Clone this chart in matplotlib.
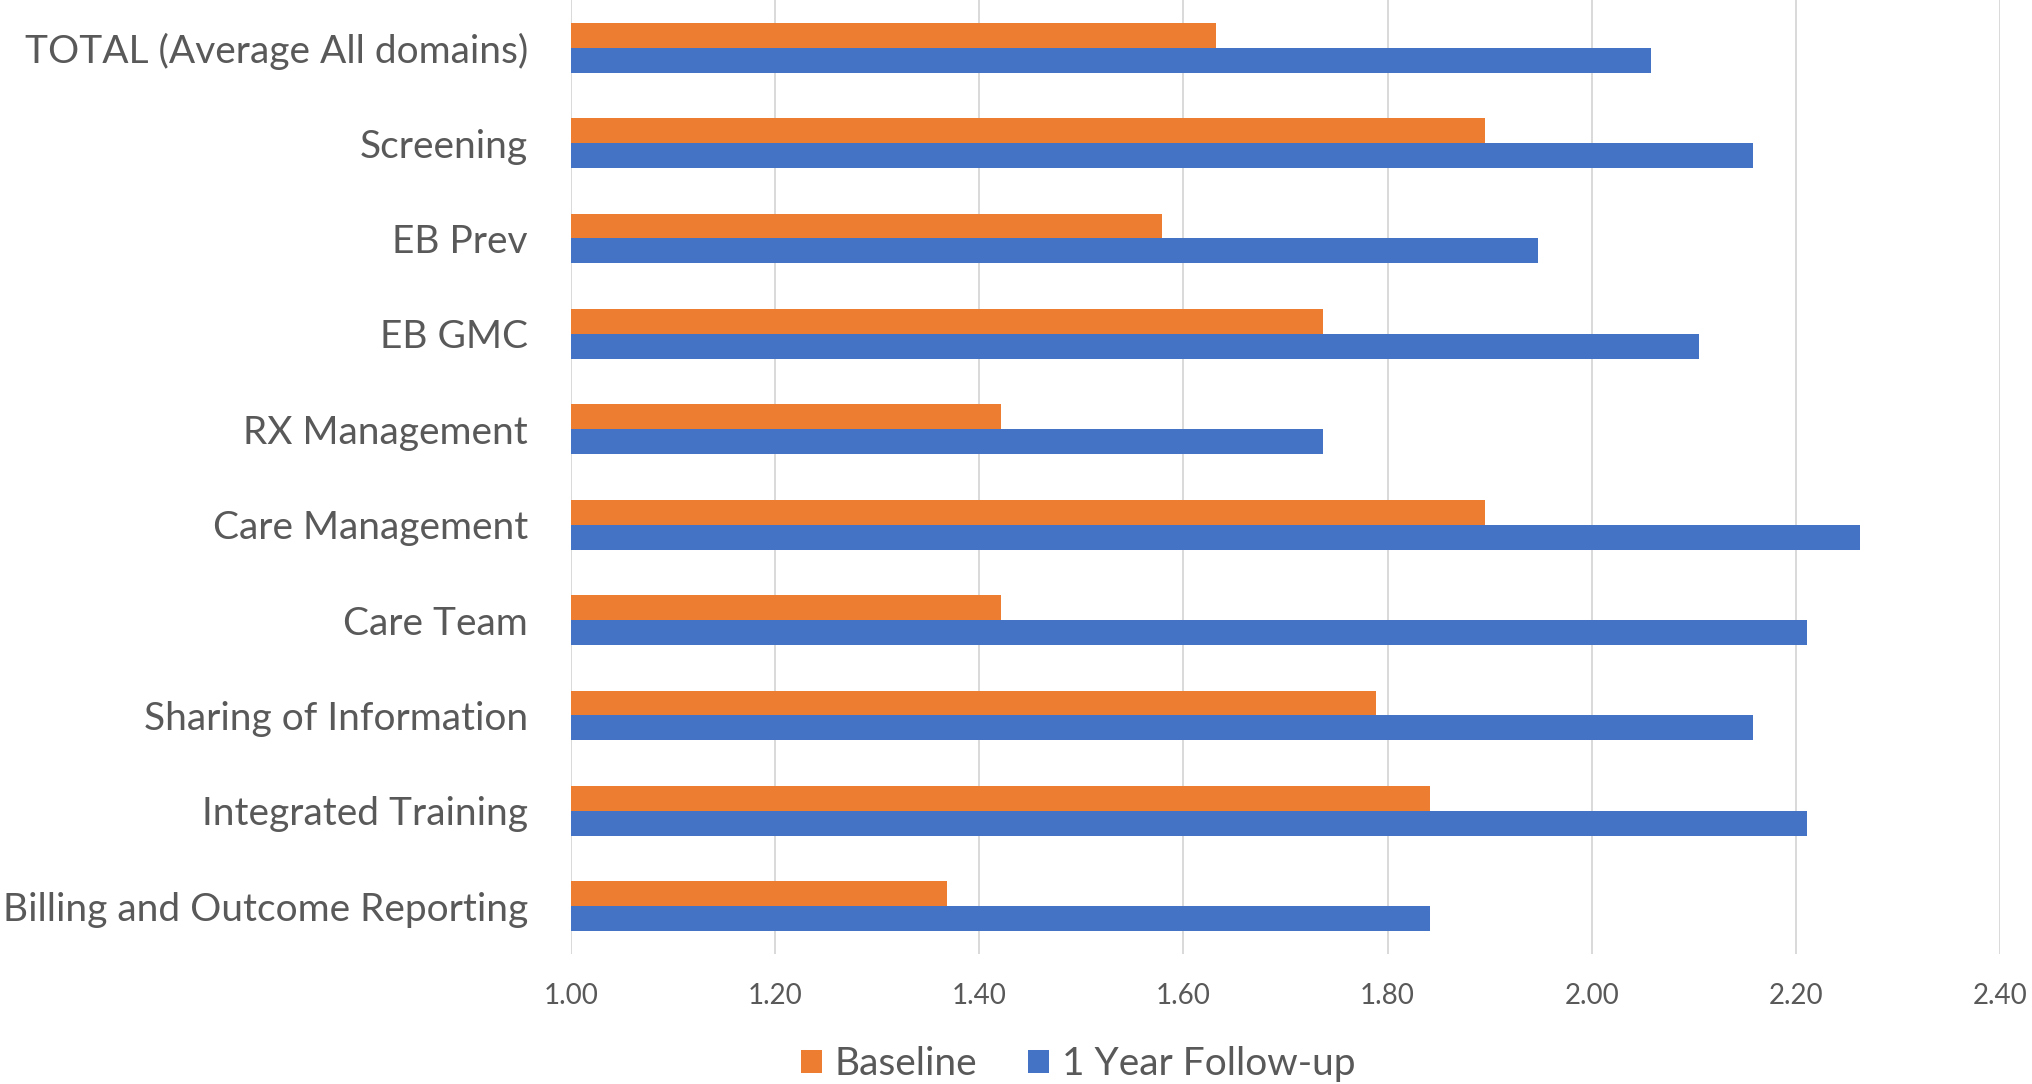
import matplotlib
matplotlib.use("Agg")
import matplotlib.pyplot as plt
import numpy as np

categories = ["TOTAL (Average All domains)", "Screening", "EB Prev", "EB GMC",
              "RX Management", "Care Management", "Care Team",
              "Sharing of Information", "Integrated Training",
              "Billing and Outcome Reporting"]
baseline = [1.632, 1.895, 1.579, 1.737, 1.421, 1.895, 1.421, 1.789, 1.842, 1.368]
follow_up = [2.058, 2.158, 1.947, 2.105, 1.737, 2.263, 2.211, 2.158, 2.211, 1.842]
series_names = ["Baseline", "1 Year Follow-up"]
xticks = [1.00, 1.20, 1.40, 1.60, 1.80, 2.00, 2.20, 2.40]

plt.rcParams['font.family'] = ['Lato', 'DejaVu Sans']
TXT = '#595959'
ORANGE = '#ED7D31'
BLUE = '#4472C4'

W, H = 2033, 1084
fig = plt.figure(figsize=(W/100, H/100), dpi=100)
ax = fig.add_axes([571/W, (H-954)/H, (2000-571)/W, 954/H])

y = np.arange(len(categories))
bh = 0.262
ax.barh(y - bh/2, [b - 1 for b in baseline], left=1, height=bh, color=ORANGE,
        label=series_names[0], zorder=3)
ax.barh(y + bh/2, [f - 1 for f in follow_up], left=1, height=bh, color=BLUE,
        label=series_names[1], zorder=3)

ax.set_xlim(1.0, 2.4)
ax.set_ylim(len(categories) - 0.5, -0.5)
ax.set_xticks(xticks)
ax.set_xticklabels([f"{t:.2f}" for t in xticks])
ax.set_yticks(y)
ax.set_yticklabels(categories)
ax.tick_params(axis='y', length=0, pad=31, labelsize=28, labelcolor=TXT)
ax.tick_params(axis='x', length=0, pad=21, labelsize=20, labelcolor=TXT)
for s in ax.spines.values():
    s.set_visible(False)
ax.grid(axis='x', color='#d9d9d9', linewidth=1.4, zorder=0)
ax.set_axisbelow(True)

fig.legend(loc='center', bbox_to_anchor=(1078/W, 20/H), ncol=2, frameon=False,
           fontsize=28, labelcolor=TXT, handlelength=0.54, handleheight=0.54,
           handletextpad=0.33, columnspacing=1.3, borderpad=0, borderaxespad=0)

fig.savefig("out.png", dpi=100, facecolor='white')
